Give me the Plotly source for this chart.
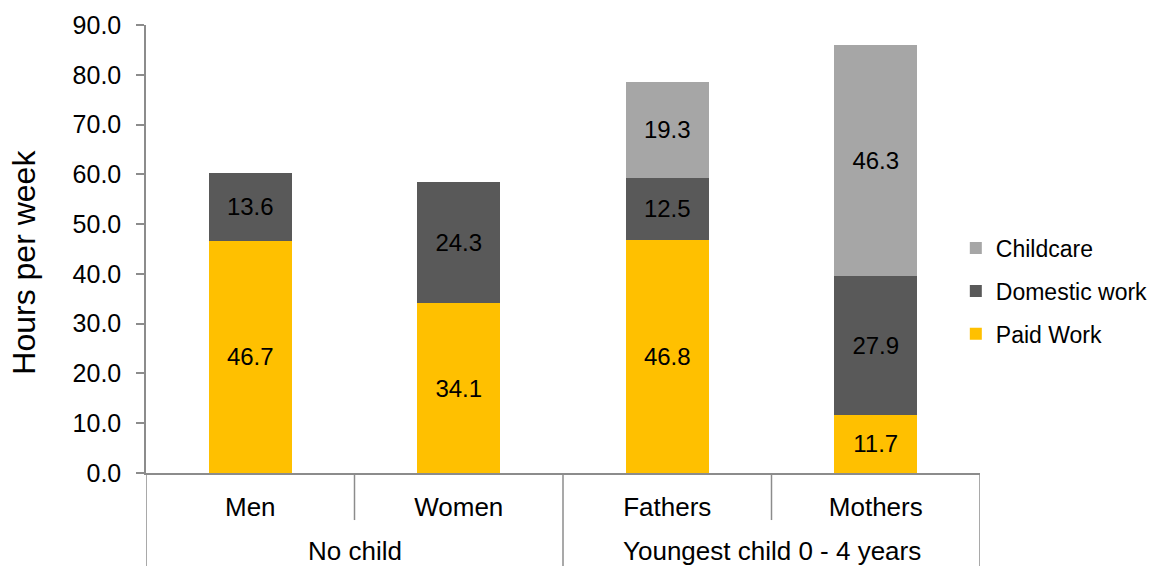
import plotly.graph_objects as go

categories = ["Men", "Women", "Fathers", "Mothers"]
groups = ["No child", "Youngest child 0 - 4 years"]
group_members = [[0, 1], [2, 3]]
paid_work = [46.7, 34.1, 46.8, 11.7]
domestic_work = [13.6, 24.3, 12.5, 27.9]
childcare = [None, None, 19.3, 46.3]

series = [
    ("Paid Work", paid_work, "#FFC000", 3),
    ("Domestic work", domestic_work, "#595959", 2),
    ("Childcare", childcare, "#A6A6A6", 1),
]

FONT = "Arial, Liberation Sans, sans-serif"
AX = "#8C8C8C"

fig = go.Figure()
for name, vals, color, rank in series:
    fig.add_trace(go.Bar(
        x=categories, y=vals, name=name, legendgroup=name, legendrank=rank,
        marker=dict(color=color, line=dict(width=0)),
        texttemplate="%{y:.1f}", textposition="inside",
        insidetextanchor="middle", textangle=0,
        textfont=dict(color="black", size=24, family=FONT),
        hoverinfo="skip",
    ))

shapes = []
n = len(categories)
for i in range(n + 1):
    xpos = i - 0.5
    boundary = i in (0, n) or any(i == g[0] for g in group_members)
    shapes.append(dict(type="line", xref="x", yref="paper",
                       x0=xpos, x1=xpos, y0=0, y1=(-0.215 if boundary else -0.105),
                       line=dict(color=AX, width=1.5)))

annotations = []
for gname, members in zip(groups, group_members):
    annotations.append(dict(x=sum(members) / len(members), xref="x", y=-0.174, yref="paper",
                            text=gname, showarrow=False, yanchor="middle",
                            font=dict(size=26, family=FONT, color="black")))
annotations.append(dict(x=-0.146, xref="paper", y=0.47, yref="paper", text="Hours per week",
                        textangle=-90, showarrow=False, xanchor="center", yanchor="middle",
                        font=dict(size=32, family=FONT, color="black")))

fig.update_layout(
    width=1155, height=566,
    margin=dict(l=146, r=175, t=25, b=93, autoexpand=False),
    barmode="stack", bargap=0.6,
    plot_bgcolor="white", paper_bgcolor="white",
    font=dict(family=FONT, size=24, color="black"),
    shapes=shapes, annotations=annotations,
    legend=dict(x=0.971, xanchor="left", y=0.406, yanchor="middle",
                traceorder="grouped", tracegroupgap=10,
                font=dict(size=23, family=FONT, color="black"),
                bgcolor="rgba(0,0,0,0)"),
    xaxis=dict(range=[-0.5, n - 0.5], showline=True, linecolor=AX, linewidth=1.5,
               ticks="", showgrid=False, zeroline=False, ticklabelstandoff=10,
               tickfont=dict(size=26, family=FONT, color="black")),
    yaxis=dict(range=[0, 90], dtick=10, tickformat=".1f", showline=True, linecolor=AX,
               linewidth=1.5, ticks="outside", ticklen=8, tickcolor=AX, tickwidth=1.5,
               showgrid=False, zeroline=False, ticklabelstandoff=10,
               tickfont=dict(size=25, family=FONT, color="black")),
)

fig.write_html("out.html")
